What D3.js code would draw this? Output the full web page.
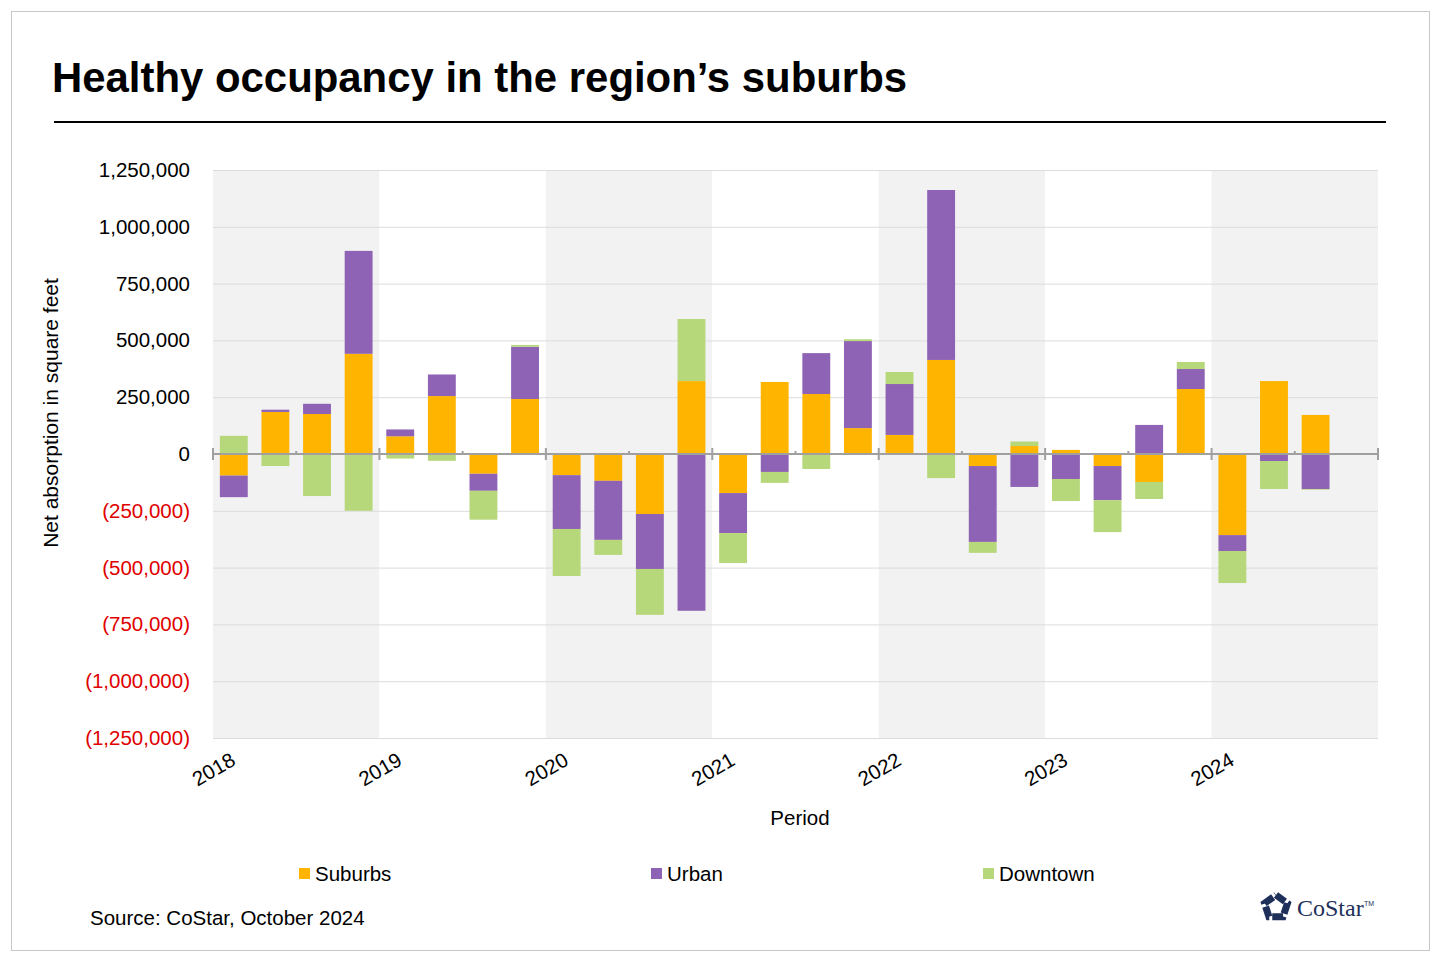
<!DOCTYPE html>
<html>
<head>
<meta charset="utf-8">
<script src="https://cdn.jsdelivr.net/npm/d3@7"></script>
<style>
body { margin: 0; background: #fff; font-family: "Liberation Sans", Arial, sans-serif; }
</style>
</head>
<body>
<svg id="chart"></svg>
<script>
var quarters = ["2018Q1","2018Q2","2018Q3","2018Q4","2019Q1","2019Q2","2019Q3","2019Q4",
  "2020Q1","2020Q2","2020Q3","2020Q4","2021Q1","2021Q2","2021Q3","2021Q4",
  "2022Q1","2022Q2","2022Q3","2022Q4","2023Q1","2023Q2","2023Q3","2023Q4",
  "2024Q1","2024Q2","2024Q3"];
var emptySlots = ["2024Q4"];
var suburbs = [-95000,185000,176000,441000,78000,255000,-87000,242000,
  -93000,-118000,-264000,321000,-172000,317000,264000,114000,
  84000,414000,-53000,35000,18000,-53000,-123000,286000,
  -357000,321000,172000];
var urban = [-95000,10000,45000,453000,30000,95000,-75000,230000,
  -237000,-260000,-242000,-690000,-176000,-79000,180000,383000,
  224000,748000,-334000,-145000,-110000,-150000,128000,88000,
  -70000,-31000,-154000];
var downtown = [80000,-53000,-185000,-250000,-20000,-30000,-127000,8000,
  -207000,-66000,-202000,273000,-132000,-48000,-66000,8000,
  53000,-106000,-48000,20000,-97000,-141000,-75000,31000,
  -141000,-123000,-3000];
var years = ["2018","2019","2020","2021","2022","2023","2024"];
var yTicks = [-1250000,-1000000,-750000,-500000,-250000,0,250000,500000,750000,1000000,1250000];
var seriesNames = ["Suburbs","Urban","Downtown"];
var colors = ["#ffb400","#8e62b4","#b6d77a"];

var svg = d3.select("#chart").attr("width", 1440).attr("height", 960);

svg.append("rect").attr("x", 11.5).attr("y", 11.5).attr("width", 1418).attr("height", 939)
  .attr("fill", "none").attr("stroke", "#c8c8c8");

svg.append("text").attr("x", 52).attr("y", 92).attr("font-size", "41.9px")
  .attr("font-weight", "bold").attr("fill", "#000")
  .text("Healthy occupancy in the region\u2019s suburbs");
svg.append("line").attr("x1", 54).attr("x2", 1386).attr("y1", 122).attr("y2", 122)
  .attr("stroke", "#000").attr("stroke-width", 2);

var plotLeft = 213, plotRight = 1378, plotTop = 170, plotBottom = 738;

var x = d3.scaleBand().domain(quarters.concat(emptySlots)).range([plotLeft, plotRight])
  .paddingInner(0.33).paddingOuter(0.165);
var xYear = d3.scaleLinear().domain([0, 7]).range([plotLeft, plotRight]);
var y = d3.scaleLinear().domain([-1250000, 1250000]).range([plotBottom, plotTop]);

// year bands
svg.append("g").selectAll("rect").data(years).join("rect")
  .attr("x", function(d, i) { return xYear(i); })
  .attr("width", xYear(1) - xYear(0))
  .attr("y", plotTop).attr("height", plotBottom - plotTop)
  .attr("fill", function(d, i) { return i % 2 == 0 ? "#f2f2f2" : "#fff"; });

// grid
svg.append("g").selectAll("line").data(yTicks).join("line")
  .attr("x1", plotLeft).attr("x2", plotRight)
  .attr("y1", function(d) { return y(d) + 0.5; }).attr("y2", function(d) { return y(d) + 0.5; })
  .attr("stroke", "#dcdcdc");

// y labels
svg.append("g").selectAll("text").data(yTicks).join("text")
  .attr("x", 190).attr("y", function(d) { return y(d) + 7; })
  .attr("text-anchor", "end").attr("font-size", "20.5px")
  .attr("fill", function(d) { return d < 0 ? "#e00000" : "#000"; })
  .text(function(d) { return d < 0 ? "(" + d3.format(",")(-d) + ")" : d3.format(",")(d); });

// stacked bars
var table = quarters.map(function(q, i) {
  return { q: q, Suburbs: suburbs[i], Urban: urban[i], Downtown: downtown[i] };
});
var stack = d3.stack().keys(seriesNames).offset(d3.stackOffsetDiverging)(table);

svg.append("g").selectAll("g").data(stack).join("g")
  .attr("fill", function(d, i) { return colors[i]; })
  .selectAll("rect").data(function(d) { return d; }).join("rect")
  .attr("x", function(d) { return x(d.data.q); })
  .attr("width", x.bandwidth())
  .attr("y", function(d) { return y(Math.max(d[0], d[1])); })
  .attr("height", function(d) { return Math.abs(y(d[0]) - y(d[1])); });

// zero axis
svg.append("line").attr("x1", plotLeft).attr("x2", plotRight).attr("y1", y(0)).attr("y2", y(0))
  .attr("stroke", "#a0a0a0").attr("stroke-width", 2);
var tickPos = d3.range(0, 7.5, 0.5);
svg.append("g").selectAll("line").data(tickPos).join("line")
  .attr("x1", function(d) { return xYear(d); }).attr("x2", function(d) { return xYear(d); })
  .attr("y1", function(d) { return y(0) - (d % 1 == 0 ? 6 : 3); })
  .attr("y2", function(d) { return y(0) + (d % 1 == 0 ? 6 : 0); })
  .attr("stroke", "#a0a0a0").attr("stroke-width", 2);

// year labels
svg.append("g").selectAll("text").data(years).join("text")
  .attr("transform", function(d, i) { return "translate(" + (xYear(i) + 24) + ",764) rotate(-30)"; })
  .attr("text-anchor", "end").attr("font-size", "20.5px").attr("fill", "#000")
  .text(function(d) { return d; });

svg.append("text").attr("x", 800).attr("y", 825).attr("text-anchor", "middle")
  .attr("font-size", "20.5px").text("Period");
svg.append("text").attr("transform", "translate(58,413) rotate(-90)")
  .attr("text-anchor", "middle").attr("font-size", "21px").text("Net absorption in square feet");

// legend
var legendX = [299, 651, 983];
var lg = svg.append("g").selectAll("g").data(seriesNames).join("g")
  .attr("transform", function(d, i) { return "translate(" + legendX[i] + ",868)"; });
lg.append("rect").attr("width", 11).attr("height", 11).attr("fill", function(d, i) { return colors[i]; });
lg.append("text").attr("x", 16).attr("y", 13).attr("font-size", "20.5px").text(function(d) { return d; });

svg.append("text").attr("x", 90).attr("y", 925).attr("font-size", "20.5px").text("Source: CoStar, October 2024");

// logo
var logo = svg.append("g").attr("transform", "translate(1276,907)");
var star = d3.range(5).map(function(i) {
  var a = -Math.PI / 2 + i * 2 * Math.PI / 5;
  return [Math.cos(a) * 12, Math.sin(a) * 12];
});
logo.append("path").attr("d", d3.line()(star.concat([star[0]])))
  .attr("fill", "none").attr("stroke", "#1e2f5a").attr("stroke-width", 7)
  .attr("stroke-dasharray", "11,3");
svg.append("text").attr("x", 1297).attr("y", 916).attr("font-family", "Liberation Serif, serif")
  .attr("font-size", "24px").attr("fill", "#1e2f5a").text("CoStar");
svg.append("text").attr("x", 1364).attr("y", 906).attr("font-size", "7px").attr("fill", "#1e2f5a").text("TM");
</script>
</body>
</html>
